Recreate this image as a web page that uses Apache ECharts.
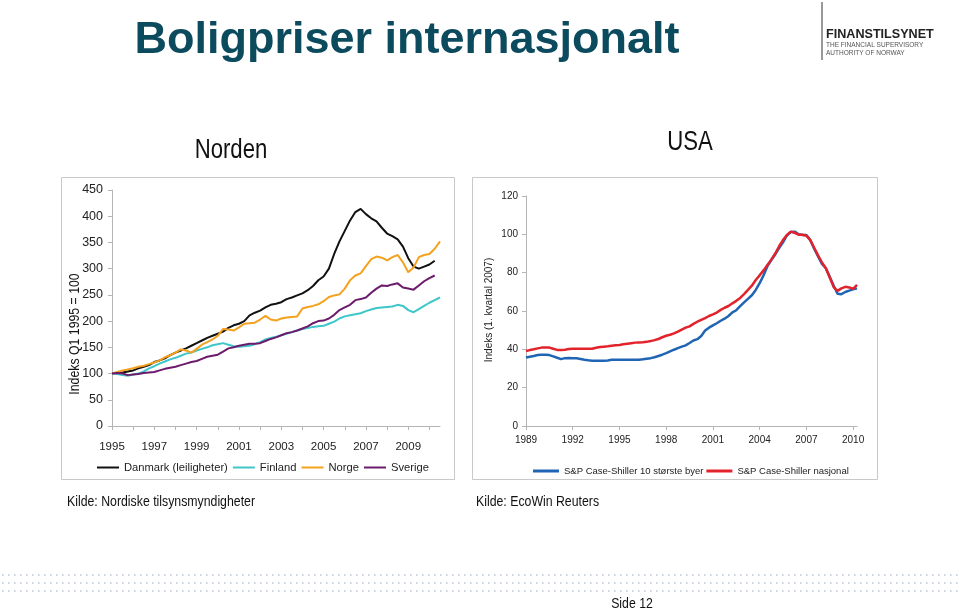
<!DOCTYPE html>
<html>
<head>
<meta charset="utf-8">
<script src="https://cdn.jsdelivr.net/npm/echarts@6/dist/echarts.min.js"></script>
<style>
html,body{margin:0;padding:0;background:#fff;}
#c{width:960px;height:611px;}
</style>
</head>
<body>
<div id="c"></div>
<script>
// ---------- Data: Norden (quarterly, 1995K1 - 2010K3, index Q1 1995 = 100) ----------
const nordenStartYear = 1995;
const nordenQuarterCount = 63;
const nordenYearTicks = ['1995','1997','1999','2001','2003','2005','2007','2009'];

const danmark = [100,101,102,104,106,110,113,116,122,125,129,135,140,144,148,153,158,163,168,172,176,180,187,192,195,200,211,216,220,226,231,233,236,242,245,249,253,259,267,278,285,300,328,352,372,392,408,414,404,396,390,378,367,362,356,342,320,304,300,304,308,315,null];
const finland = [100,99,97,96,98,100,104,110,114,119,123,127,130,134,138,140,144,147,150,154,156,158,155,152,151,152,153,156,160,165,168,170,173,176,179,182,185,187,189,190,191,195,199,205,209,211,213,215,219,222,225,226,227,228,231,229,221,217,223,229,235,240,245];
const norge = [100,103,106,108,110,113,115,118,121,125,131,135,140,146,144,140,147,155,160,165,172,185,184,182,188,195,196,197,203,210,203,201,205,207,208,209,224,227,229,232,238,246,249,251,262,278,287,291,305,318,323,321,316,322,326,312,293,302,322,326,328,338,352];
const sverige = [100,101,100,97,98,99,101,102,103,106,109,111,113,116,119,122,124,128,132,134,136,142,148,150,153,155,157,157,158,162,166,169,173,177,179,182,186,190,196,200,201,205,212,221,226,231,240,242,245,254,262,268,267,270,272,264,262,260,268,276,282,287,null];

const nordenSeriesNames = ['Danmark (leiligheter)','Finland','Norge','Sverige'];
const nordenColors = ['#111111','#3fc6c8','#f4a21e','#6c1a6c'];

// ---------- Data: USA (quarterly, 1989K1 - 2010K2, index 1. kvartal 2007 = 100) ----------
const usaStartYear = 1989;
const usaQuarterCount = 86;
const usaYearTicks = ['1989','1992','1995','1998','2001','2004','2007','2010'];

const csTiByer = [35.7,36.1,36.5,37.0,37.2,37.2,37.0,36.3,35.6,34.9,35.4,35.5,35.4,35.3,35.0,34.6,34.3,34.1,34.1,34.1,34.1,34.2,34.6,34.6,34.6,34.6,34.6,34.6,34.6,34.6,34.8,35.1,35.4,35.9,36.5,37.2,38.0,38.9,39.8,40.6,41.4,42.1,43.3,44.6,45.3,47.0,49.8,51.3,52.5,53.6,54.9,56.0,57.4,59.3,60.4,62.5,64.5,66.3,68.2,71.0,74.5,78.6,83.4,86.6,89.5,92.8,95.8,99.4,101.2,101.4,100.0,99.7,99.6,97.0,92.5,88.5,84.6,82.3,77.8,73.3,69.0,68.8,69.9,70.6,71.3,71.8];
const csNasjonal = [39.1,39.6,40.0,40.5,40.9,40.9,40.9,40.3,39.7,39.6,39.8,40.2,40.3,40.3,40.3,40.3,40.3,40.3,40.8,41.2,41.4,41.6,41.9,42.1,42.3,42.6,42.9,43.2,43.5,43.6,43.7,43.9,44.3,44.8,45.4,46.3,47.1,47.6,48.3,49.2,50.3,51.3,52.0,53.3,54.4,55.4,56.3,57.4,58.2,59.2,60.6,61.7,62.6,64.0,65.3,66.8,68.8,71.0,73.2,76.2,78.6,81.2,84.0,86.8,90.0,93.8,97.0,99.7,101.4,100.8,99.8,99.8,99.3,97.0,93.0,89.0,85.3,82.3,77.5,72.5,70.5,71.8,72.6,72.3,71.6,73.6];

const usaSeriesNames = ['S&P Case-Shiller 10 største byer','S&P Case-Shiller nasjonal'];
const usaColors = ['#2064b4','#e2232b'];

// ---------- Build quarter categories ----------
function quarters(startYear, count){
  const out = [];
  for (let k = 0; k < count; k++) {
    out.push((startYear + Math.floor(k/4)) + 'K' + (k%4 + 1));
  }
  return out;
}
const nordenCats = quarters(nordenStartYear, nordenQuarterCount);
const usaCats = quarters(usaStartYear, usaQuarterCount);

const SANS = '"Liberation Sans", Arial, Helvetica, sans-serif';
const NARROW_SCALE = 0.82;

const chart = echarts.init(document.getElementById('c'), null, {renderer:'canvas'});

function lineSeries(name, data, color, xi, width){
  return {
    name: name, type: 'line', data: data, xAxisIndex: xi, yAxisIndex: xi,
    symbol: 'none', showSymbol: false, connectNulls: false,
    lineStyle: {color: color, width: width}, itemStyle: {color: color},
    emphasis: {disabled: true}
  };
}

function narrowText(x, y, text, size, align, extra){
  return Object.assign({
    type: 'text', x: x, y: y, scaleX: NARROW_SCALE,
    style: {text: text, font: size + 'px ' + SANS, fill: '#111', textAlign: align, textVerticalAlign: 'middle'}
  }, extra || {});
}

// dotted footer lines
const dotRows = [575, 583, 591].map(y => ({
  type: 'line', shape: {x1: 2, y1: y, x2: 958, y2: y},
  style: {stroke: '#bcc8d6', lineWidth: 1.6, lineDash: [1.6, 4.4]}
}));

const option = {
  backgroundColor: '#ffffff',
  animation: false,
  textStyle: {fontFamily: SANS},
  grid: [
    {left: 112, top: 190, width: 328, height: 236},
    {left: 526, top: 196, width: 331, height: 230}
  ],
  xAxis: [
    {
      type: 'category', gridIndex: 0, data: nordenCats, boundaryGap: false,
      axisLine: {lineStyle: {color: '#b5b5b5', width: 1}},
      axisTick: {show: true, interval: 3, length: 4, lineStyle: {color: '#b5b5b5'}},
      axisLabel: {
        interval: 7, margin: 15, color: '#222', fontSize: 11.5, fontFamily: SANS,
        formatter: v => { const y = v.slice(0,4); return nordenYearTicks.indexOf(y) >= 0 ? y : ''; }
      },
      splitLine: {show: false}
    },
    {
      type: 'category', gridIndex: 1, data: usaCats, boundaryGap: false,
      axisLine: {lineStyle: {color: '#b5b5b5', width: 1}},
      axisTick: {show: true, interval: 11, length: 4, lineStyle: {color: '#b5b5b5'}},
      axisLabel: {
        interval: 11, margin: 9, color: '#222', fontSize: 10, fontFamily: SANS,
        formatter: v => { const y = v.slice(0,4); return usaYearTicks.indexOf(y) >= 0 ? y : ''; }
      },
      splitLine: {show: false}
    }
  ],
  yAxis: [
    {
      type: 'value', gridIndex: 0, min: 0, max: 450, interval: 50,
      axisLine: {show: true, lineStyle: {color: '#b5b5b5'}},
      axisTick: {show: true, length: 4, lineStyle: {color: '#b5b5b5'}},
      axisLabel: {color: '#222', fontSize: 12.5, fontFamily: SANS, margin: 9},
      splitLine: {show: false}
    },
    {
      type: 'value', gridIndex: 1, min: 0, max: 120, interval: 20,
      axisLine: {show: true, lineStyle: {color: '#b5b5b5'}},
      axisTick: {show: true, length: 4, lineStyle: {color: '#b5b5b5'}},
      axisLabel: {color: '#222', fontSize: 10, fontFamily: SANS, margin: 8},
      splitLine: {show: false}
    }
  ],
  legend: [
    {
      data: nordenSeriesNames, left: 97, top: 462, padding: 0,
      icon: 'rect', itemWidth: 22, itemHeight: 2, itemGap: 5,
      textStyle: {fontSize: 11.2, fontFamily: SANS, color: '#222'},
      selectedMode: false
    },
    {
      data: usaSeriesNames, left: 533, top: 466, padding: 0,
      icon: 'rect', itemWidth: 26, itemHeight: 3, itemGap: 3,
      textStyle: {fontSize: 9.5, fontFamily: SANS, color: '#222'},
      selectedMode: false
    }
  ],
  series: [
    lineSeries(nordenSeriesNames[0], danmark, nordenColors[0], 0, 2),
    lineSeries(nordenSeriesNames[1], finland, nordenColors[1], 0, 2),
    lineSeries(nordenSeriesNames[2], norge, nordenColors[2], 0, 2),
    lineSeries(nordenSeriesNames[3], sverige, nordenColors[3], 0, 2),
    lineSeries(usaSeriesNames[0], csTiByer, usaColors[0], 1, 2.5),
    lineSeries(usaSeriesNames[1], csNasjonal, usaColors[1], 1, 2.5)
  ],
  graphic: [
    // chart frames
    {type: 'rect', shape: {x: 61.5, y: 177.5, width: 393, height: 302}, style: {fill: 'none', stroke: '#c9c9c9', lineWidth: 1}, z: -1},
    {type: 'rect', shape: {x: 472.5, y: 177.5, width: 405, height: 302}, style: {fill: 'none', stroke: '#c9c9c9', lineWidth: 1}, z: -1},
    // main title
    {type: 'text', x: 407, y: 41, style: {text: 'Boligpriser internasjonalt', font: 'bold 45px ' + SANS, fill: '#0c4a5e', textAlign: 'center', textVerticalAlign: 'middle'}},
    // sub titles
    narrowText(231, 151, 'Norden', 27, 'center'),
    narrowText(690, 143, 'USA', 27, 'center'),
    // axis names
    narrowText(75, 334, 'Indeks Q1 1995 = 100', 15, 'center', {rotation: Math.PI/2}),
    {type: 'text', x: 489, y: 310, rotation: Math.PI/2, style: {text: 'Indeks (1. kvartal 2007)', font: '10px ' + SANS, fill: '#222', textAlign: 'center', textVerticalAlign: 'middle'}},
    // sources
    narrowText(67, 502, 'Kilde: Nordiske tilsynsmyndigheter', 15, 'left'),
    narrowText(476, 502, 'Kilde: EcoWin Reuters', 15, 'left'),
    // footer
    ...dotRows,
    narrowText(632, 604, 'Side 12', 15, 'center'),
    // logo
    {type: 'line', shape: {x1: 822, y1: 2, x2: 822, y2: 60}, style: {stroke: '#555', lineWidth: 1.2}},
    {type: 'text', x: 826, y: 35, style: {text: 'FINANSTILSYNET', font: 'bold 12.6px ' + SANS, fill: '#222', textAlign: 'left', textVerticalAlign: 'middle'}},
    {type: 'text', x: 826, y: 45.5, style: {text: 'THE FINANCIAL SUPERVISORY', font: '6.5px ' + SANS, fill: '#555', textAlign: 'left', textVerticalAlign: 'middle'}},
    {type: 'text', x: 826, y: 53.5, style: {text: 'AUTHORITY OF NORWAY', font: '6.5px ' + SANS, fill: '#555', textAlign: 'left', textVerticalAlign: 'middle'}}
  ]
};
chart.setOption(option);
</script>
</body>
</html>
